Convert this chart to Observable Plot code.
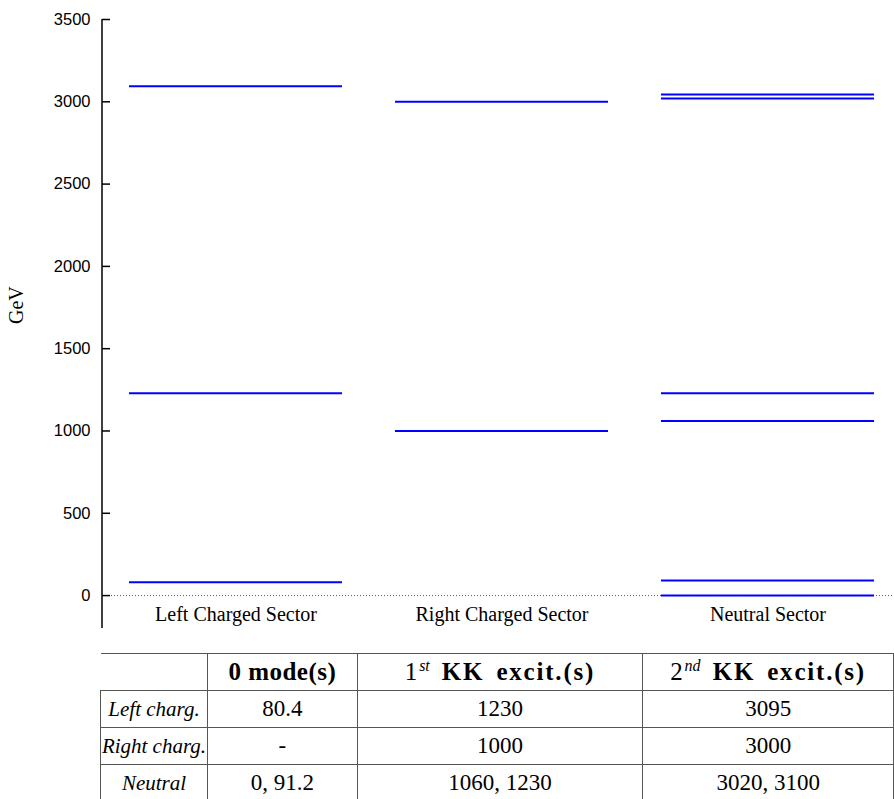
<!DOCTYPE html>
<html>
<head>
<meta charset="utf-8">
<script src="https://cdn.jsdelivr.net/npm/d3@7"></script>
<script src="https://cdn.jsdelivr.net/npm/@observablehq/plot@0.6"></script>
<style>
  html, body { margin: 0; padding: 0; background: #fff; }
  #chart svg { display: block; }
  table.modes {
    position: absolute; left: 100px; top: 653px;
    border-collapse: collapse; table-layout: fixed;
    font-family: "Liberation Serif", "DejaVu Serif", serif; font-size: 23px; color: #000;
  }
  table.modes td, table.modes th {
    border: 1px solid #555; height: 36px; padding: 0; text-align: center; white-space: nowrap;
  }
  table.modes th { font-weight: bold; font-size: 25px; letter-spacing: 0.5px; }
  table.modes th.wide { letter-spacing: 1.8px; word-spacing: 4px; }
  table.modes th .n { font-weight: normal; }
  table.modes th.blank { border-left: none; }
  table.modes td.lab { font-style: italic; font-size: 21px; }
  table.modes sup { font-weight: normal; font-style: italic; font-size: 16px; letter-spacing: 0; }
</style>
</head>
<body>
<div id="chart"></div>
<script>
// ---- data ----
const sectors = ["Left Charged Sector", "Right Charged Sector", "Neutral Sector"];
const leftLevels = [80.4, 1230, 3095];
const rightLevels = [1000, 3000];
const neutralLevels = [0, 91.2, 1060, 1230, 3020, 3045];
const yTicks = [0, 500, 1000, 1500, 2000, 2500, 3000, 3500];
const yDomain = [-200, 3500];

const tableHeaders = ["", "0 mode(s)", "1|st|KK excit.(s)", "2|nd|KK excit.(s)"];
const rowLabels = ["Left charg.", "Right charg.", "Neutral"];
const zeroModes = ["80.4", "-", "0, 91.2"];
const firstKK = ["1230", "1000", "1060, 1230"];
const secondKK = ["3095", "3000", "3020, 3100"];

const levels = [
  ...leftLevels.map(m => ({sector: sectors[0], mass: m})),
  ...rightLevels.map(m => ({sector: sectors[1], mass: m})),
  ...neutralLevels.map(m => ({sector: sectors[2], mass: m}))
];

const chart = Plot.plot({
  width: 894,
  height: 632,
  marginLeft: 102,
  marginRight: 0,
  marginTop: 19,
  marginBottom: 4,
  style: {background: "white", color: "black", overflow: "visible"},
  x: {type: "band", domain: sectors, range: [101.4, 901], paddingInner: 0.2, paddingOuter: 0.1},
  y: {domain: yDomain},
  marks: [
    Plot.ruleY([0], {stroke: "#555", strokeDasharray: "1,2", strokeWidth: 1}),
    Plot.tickY(levels, {x: "sector", y: "mass", stroke: "#0000ff", strokeWidth: 2}),
    Plot.axisY({ticks: yTicks, tickFormat: d3.format("d"), tickSize: -8, tickPadding: 20, label: null,
      fontSize: 16.5, fontFamily: "Liberation Sans, Arial, sans-serif", strokeWidth: 1.5}),
    Plot.text(["GeV"], {frameAnchor: "left", rotate: -90, dx: -86,
      fontSize: 20, fontFamily: "Liberation Serif, serif", fill: "black"}),
    Plot.axisX({tickSize: 0, dy: -31, label: null, fontSize: 20,
      fontFamily: "Liberation Serif, serif"})
  ]
});
document.getElementById("chart").appendChild(chart);

// y-axis line along the frame's left edge, from the y scale
const ys = chart.scale("y");
d3.select(chart).append("line")
  .attr("x1", 102).attr("x2", 102)
  .attr("y1", ys.apply(yDomain[0])).attr("y2", ys.apply(yDomain[1]))
  .attr("stroke", "black").attr("stroke-width", 1.5);

// ---- table ----
const table = document.createElement("table");
table.className = "modes";
const colW = [107, 150, 286, 251];
const cg = document.createElement("colgroup");
colW.forEach(w => { const c = document.createElement("col"); c.style.width = w + "px"; cg.appendChild(c); });
table.appendChild(cg);
function headerHTML(s) {
  const parts = s.split("|");
  if (parts.length === 3) return '<span class="n">' + parts[0] + "</span><sup>" + parts[1] + "</sup> " + parts[2];
  return s;
}
const hr = document.createElement("tr");
tableHeaders.forEach((h, i) => {
  const th = document.createElement("th");
  if (i === 0) th.className = "blank";
  if (i >= 2) th.className = "wide";
  th.innerHTML = headerHTML(h);
  hr.appendChild(th);
});
table.appendChild(hr);
rowLabels.forEach((lab, r) => {
  const tr = document.createElement("tr");
  [lab, zeroModes[r], firstKK[r], secondKK[r]].forEach((v, i) => {
    const td = document.createElement("td");
    if (i === 0) td.className = "lab";
    td.textContent = v;
    tr.appendChild(td);
  });
  table.appendChild(tr);
});
document.body.appendChild(table);
</script>
</body>
</html>
